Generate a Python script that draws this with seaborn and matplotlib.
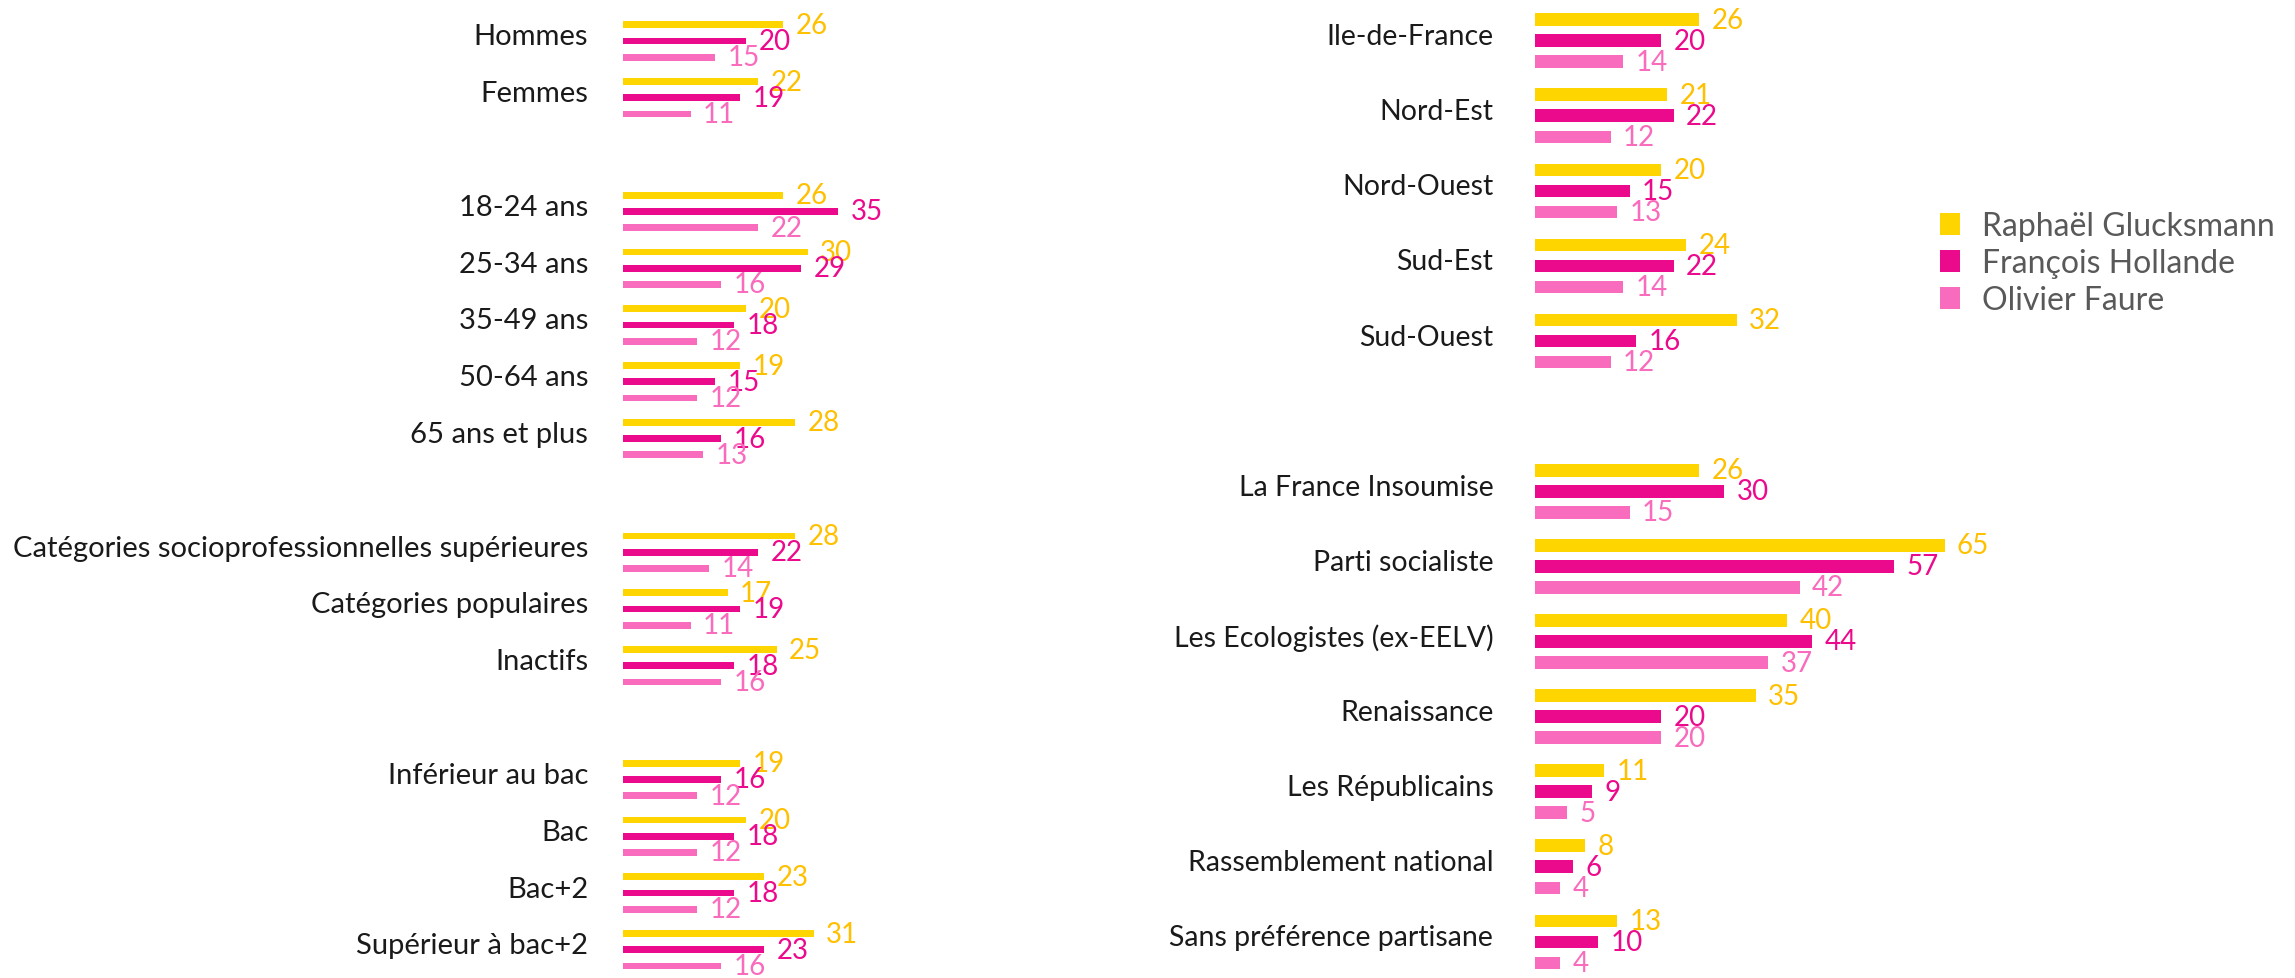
import matplotlib
matplotlib.use("Agg")
import matplotlib.pyplot as plt
import matplotlib.transforms as mtransforms
import seaborn as sns
import pandas as pd

# ------------------------------------------------------
# DATA
candidates = ["Raphaël Glucksmann", "François Hollande", "Olivier Faure"]
bar_colors = ["#FFD500", "#EC0A8C", "#F96BBC"]
text_colors = ["#FFC000", "#EC0A8C", "#F96BBC"]

left_labels = ["Hommes", "Femmes",
               "18-24 ans", "25-34 ans", "35-49 ans", "50-64 ans", "65 ans et plus",
               "Catégories socioprofessionnelles supérieures", "Catégories populaires", "Inactifs",
               "Inférieur au bac", "Bac", "Bac+2", "Supérieur à bac+2"]
glucksmann_left = [26, 22, 26, 30, 20, 19, 28, 28, 17, 25, 19, 20, 23, 31]
hollande_left = [20, 19, 35, 29, 18, 15, 16, 22, 19, 18, 16, 18, 18, 23]
faure_left = [15, 11, 22, 16, 12, 12, 13, 14, 11, 16, 12, 12, 12, 16]

right_labels = ["Ile-de-France", "Nord-Est", "Nord-Ouest", "Sud-Est", "Sud-Ouest",
                "La France Insoumise", "Parti socialiste", "Les Ecologistes (ex-EELV)",
                "Renaissance", "Les Républicains", "Rassemblement national",
                "Sans préférence partisane"]
glucksmann_right = [26, 21, 20, 24, 32, 26, 65, 40, 35, 11, 8, 13]
hollande_right = [20, 22, 15, 22, 16, 30, 57, 44, 20, 9, 6, 10]
faure_right = [14, 12, 13, 14, 12, 15, 42, 37, 20, 5, 4, 4]

# category order, blank rows separate the sections
left_order = left_labels[:2] + [""] + left_labels[2:7] + [" "] + left_labels[7:10] + ["  "] + left_labels[10:]
right_order = right_labels[:5] + [""] + right_labels[5:]


def long_table(labels, g, h, f):
    rows = []
    for serie, vals in zip(candidates, [g, h, f]):
        for lab, v in zip(labels, vals):
            rows.append({"cat": lab, "cand": serie, "val": v})
    return pd.DataFrame(rows)


df_left = long_table(left_labels, glucksmann_left, hollande_left, faure_left)
df_right = long_table(right_labels, glucksmann_right, hollande_right, faure_right)

# ------------------------------------------------------
sns.set_style("white")
plt.rcParams['font.family'] = ['Lato', 'DejaVu Sans']

W, H = 2295, 979
fig = plt.figure(figsize=(W / 100, H / 100), dpi=100)
pal = dict(zip(candidates, bar_colors))


def panel(df, order, x0, xmax, px_per_unit, y_first, slot, width, gap, lab_size, lab_pad):
    wpx = xmax * px_per_unit
    ax = fig.add_axes([x0 / W, 0, wpx / W, 1])
    sns.barplot(data=df, y="cat", x="val", hue="cand", order=order, hue_order=candidates,
                palette=pal, orient="h", width=width, gap=gap, ax=ax, errorbar=None,
                saturation=1, linewidth=0)
    ax.set_xlim(0, xmax)
    ax.set_ylim((H - y_first) / slot, -y_first / slot)
    ax.set_xlabel("")
    ax.set_ylabel("")
    ax.set_xticks([])
    sns.despine(ax=ax, left=True, bottom=True)
    ax.tick_params(axis="y", length=0, pad=lab_pad, labelsize=lab_size, labelcolor="#1a1a1a")
    for cont, col in zip(ax.containers, text_colors):
        ax.bar_label(cont, fmt="%d", padding=9, fontsize=20, color=col)
    shift = mtransforms.ScaledTranslation(0, 7 / 100, fig.dpi_scale_trans)
    for lbl in ax.get_yticklabels():
        lbl.set_transform(lbl.get_transform() + shift)
    return ax


ax1 = panel(df_left, left_order, 623, 60, 6.15, 42, 56.8, 0.856, 0.57, 21, 25)
ax2 = panel(df_right, right_order, 1535, 70, 6.3, 41.7, 75.1, 0.84, 0.40, 20.5, 30)

handles, labels = ax1.get_legend_handles_labels()
ax1.get_legend().remove()
ax2.get_legend().remove()
fig.legend(handles, labels, loc="upper left", bbox_to_anchor=(1940 / W, 1 - 212 / H),
           frameon=False, fontsize=23, labelcolor="#595959", borderpad=0, borderaxespad=0,
           handlelength=0.63, handleheight=0.7, handletextpad=0.7, labelspacing=0.22)

plt.savefig("out.png", dpi=100)
